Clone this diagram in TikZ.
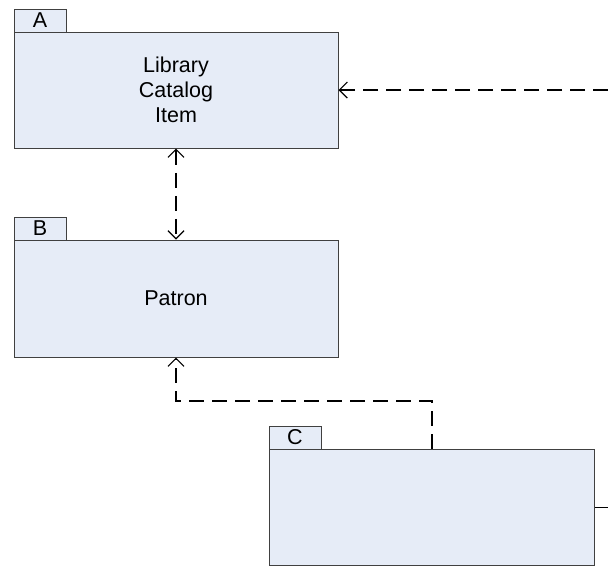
\documentclass[tikz,border=0pt]{standalone}
\usepackage{fontspec}
\setmainfont{Liberation Sans}
\usetikzlibrary{arrows.meta}
\definecolor{pkgfill}{HTML}{E6ECF7}
\definecolor{pkgline}{HTML}{404040}
\begin{document}
\begin{tikzpicture}[x=1pt,y=-1pt,
  pkgbody/.style={draw=pkgline, fill=pkgfill, line width=1pt, inner sep=0pt,
    font=\fontsize{21.5}{25}\selectfont, align=center},
  pkgtab/.style={draw=pkgline, fill=pkgfill, line width=1pt, inner sep=0pt,
    minimum width=52pt, minimum height=23pt, font=\fontsize{21.5}{22}\selectfont},
  dep/.style={line width=1.5pt, dash pattern=on 15pt off 8pt},
  barb/.tip={Straight Barb[length=8pt,width=16pt,line width=1.2pt]}]
\useasboundingbox (0,0) rectangle (608,566);

% package A
\node[pkgtab] (tabA) at (40,20.5) {A};
\node[pkgbody, minimum width=324pt, minimum height=116pt] (A) at (176,90)
  {Library\\Catalog\\Item};

% package B
\node[pkgtab] (tabB) at (40,228.5) {B};
\node[pkgbody, minimum width=324pt, minimum height=117pt] (B) at (176,298.5) {Patron};

% package C
\node[pkgtab] (tabC) at (295,437.5) {C};
\node[pkgbody, minimum width=325pt, minimum height=116pt] (C) at (432,507) {};

% loose ends at the right border
\coordinate (rA) at (608,90);
\coordinate (rC) at (608,507);

% dependencies
\draw[dep, barb-barb] (A.south) -- (B.north);
\draw[dep, -barb] (C.north) |- (176,401) -- (B.south);
\draw[dep, -barb] (rA) -- (A.east);
\draw[line width=1pt] (C.east) -- (rC);
\end{tikzpicture}
\end{document}
